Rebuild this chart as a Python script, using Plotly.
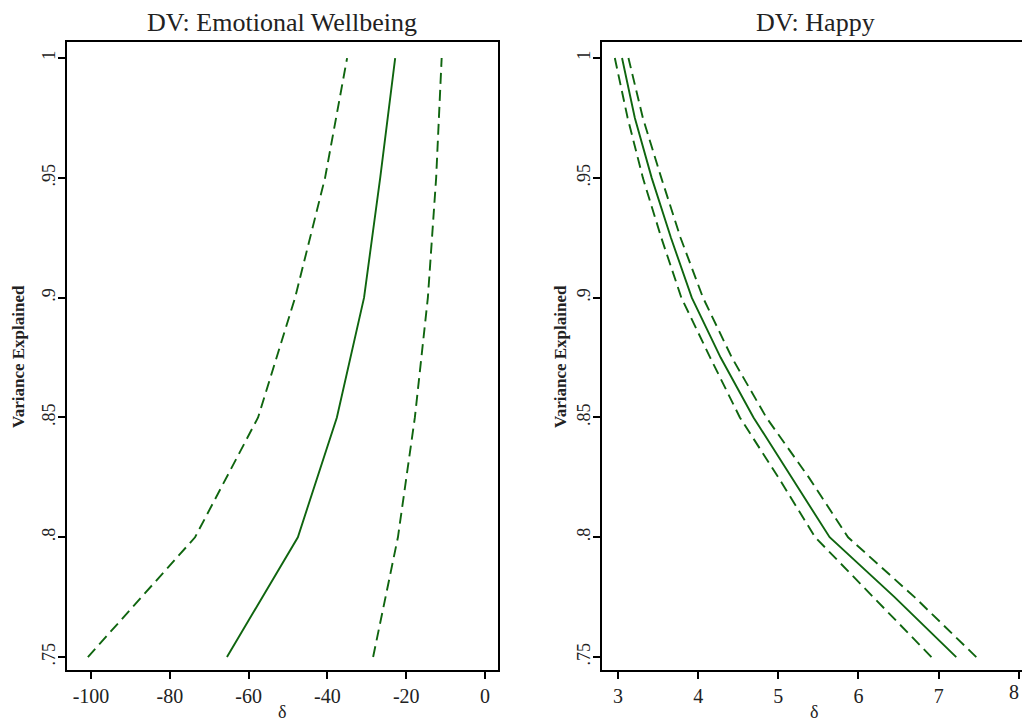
import plotly.graph_objects as go

# Data
variance_ew = [0.75, 0.80, 0.85, 0.90, 0.95, 1.00]
ew_lower = [-100.8, -73.6, -57.6, -48.2, -40.6, -35.0]
ew_est = [-65.5, -47.5, -37.6, -30.7, -26.6, -22.8]
ew_upper = [-28.4, -22.1, -17.8, -14.5, -12.4, -11.0]

variance_h = [0.75, 0.775, 0.80, 0.825, 0.85, 0.875, 0.90, 0.925, 0.95, 0.975, 1.00]
h_lower = [6.91, 6.18, 5.46, 5.00, 4.52, 4.15, 3.79, 3.54, 3.31, 3.12, 2.96]
h_est = [7.22, 6.45, 5.64, 5.17, 4.69, 4.28, 3.92, 3.66, 3.42, 3.21, 3.05]
h_upper = [7.47, 6.70, 5.87, 5.38, 4.85, 4.42, 4.06, 3.78, 3.54, 3.31, 3.13]

ytick_vals = [0.75, 0.8, 0.85, 0.9, 0.95, 1.0]
ytick_text = [".75", ".8", ".85", ".9", ".95", "1"]
xtick_ew = [-100, -80, -60, -40, -20, 0]
xtick_ew_text = ["-100", "-80", "-60", "-40", "-20", "0"]
xtick_h = [3, 4, 5, 6, 7]
xtick_h_last = 8

GREEN = "#0f650f"
FONT = "Liberation Serif"
W, H = 1022, 722

fig = go.Figure()

def add_lines(xs_list, yvals, xa, ya):
    for xs, dash in zip(xs_list, ["11px,6px", "solid", "11px,6px"]):
        fig.add_trace(go.Scatter(x=xs, y=yvals, mode="lines", xaxis=xa, yaxis=ya,
                                 line=dict(color=GREEN, width=1.9, dash=dash),
                                 showlegend=False, hoverinfo="skip"))

add_lines([ew_lower, ew_est, ew_upper], variance_ew, "x", "y")
add_lines([h_lower, h_est, h_upper], variance_h, "x2", "y2")

ydom = [52 / H, 680 / H]
common_axis = dict(showgrid=False, zeroline=False, showline=True, linecolor="black",
                   linewidth=2, ticks="outside", ticklen=7, tickwidth=2, tickcolor="black")
xfont = dict(family=FONT, size=20, color="#222")
yfont = dict(family=FONT, size=18, color="#222")

fig.update_layout(
    width=W, height=H, plot_bgcolor="white", paper_bgcolor="white",
    margin=dict(l=0, r=0, t=0, b=0),
    xaxis=dict(domain=[67 / W, 498 / W], range=[-106.1, 3.3], tickvals=xtick_ew,
               ticktext=xtick_ew_text, anchor="y", mirror=True, tickfont=xfont, **common_axis),
    yaxis=dict(domain=ydom, range=[0.7446, 1.0067], tickvals=ytick_vals, ticktext=ytick_text,
               tickangle=-90, anchor="x", mirror=True, tickfont=yfont,
               ticklabelstandoff=-4, **common_axis),
    xaxis2=dict(domain=[602 / W, 1.0], range=[2.80, 8.04], tickvals=xtick_h + [xtick_h_last],
                ticktext=[str(v) for v in xtick_h] + [""],
                anchor="y2", mirror=True, tickfont=xfont, **common_axis),
    yaxis2=dict(domain=ydom, range=[0.7446, 1.0067], tickvals=ytick_vals, ticktext=ytick_text,
                tickangle=-90, anchor="x2", mirror=False, tickfont=yfont,
                ticklabelstandoff=-4, **common_axis),
)

ann = []
ann.append(dict(text="DV: Emotional Wellbeing", x=282 / W, y=1 - 22 / H, xref="paper", yref="paper",
                showarrow=False, font=dict(family=FONT, size=26, color="#222"),
                xanchor="center", yanchor="middle"))
ann.append(dict(text="DV: Happy", x=815 / W, y=1 - 22 / H, xref="paper", yref="paper",
                showarrow=False, font=dict(family=FONT, size=26, color="#222"),
                xanchor="center", yanchor="middle"))
for xc in [18, 560]:
    ann.append(dict(text="<b>Variance Explained</b>", x=xc / W, y=1 - 357 / H, xref="paper", yref="paper",
                    showarrow=False, textangle=-90, font=dict(family=FONT, size=17, color="#222"),
                    xanchor="center", yanchor="middle"))
for xc in [282, 814]:
    ann.append(dict(text="δ", x=xc / W, y=1 - 712 / H, xref="paper", yref="paper",
                    showarrow=False, font=dict(family=FONT, size=18, color="#222"),
                    xanchor="center", yanchor="middle"))
# last tick label of the right panel, nudged left so it stays inside the page
ann.append(dict(text=str(xtick_h_last), x=xtick_h_last, xref="x2", y=1 - 692 / H, yref="paper",
                showarrow=False, font=xfont, xanchor="center", yanchor="middle", xshift=-5))
fig.update_layout(annotations=ann)

fig.write_html("out.html", config={"displayModeBar": False},
               post_script="document.body.style.margin='0';document.body.style.overflow='hidden';")
